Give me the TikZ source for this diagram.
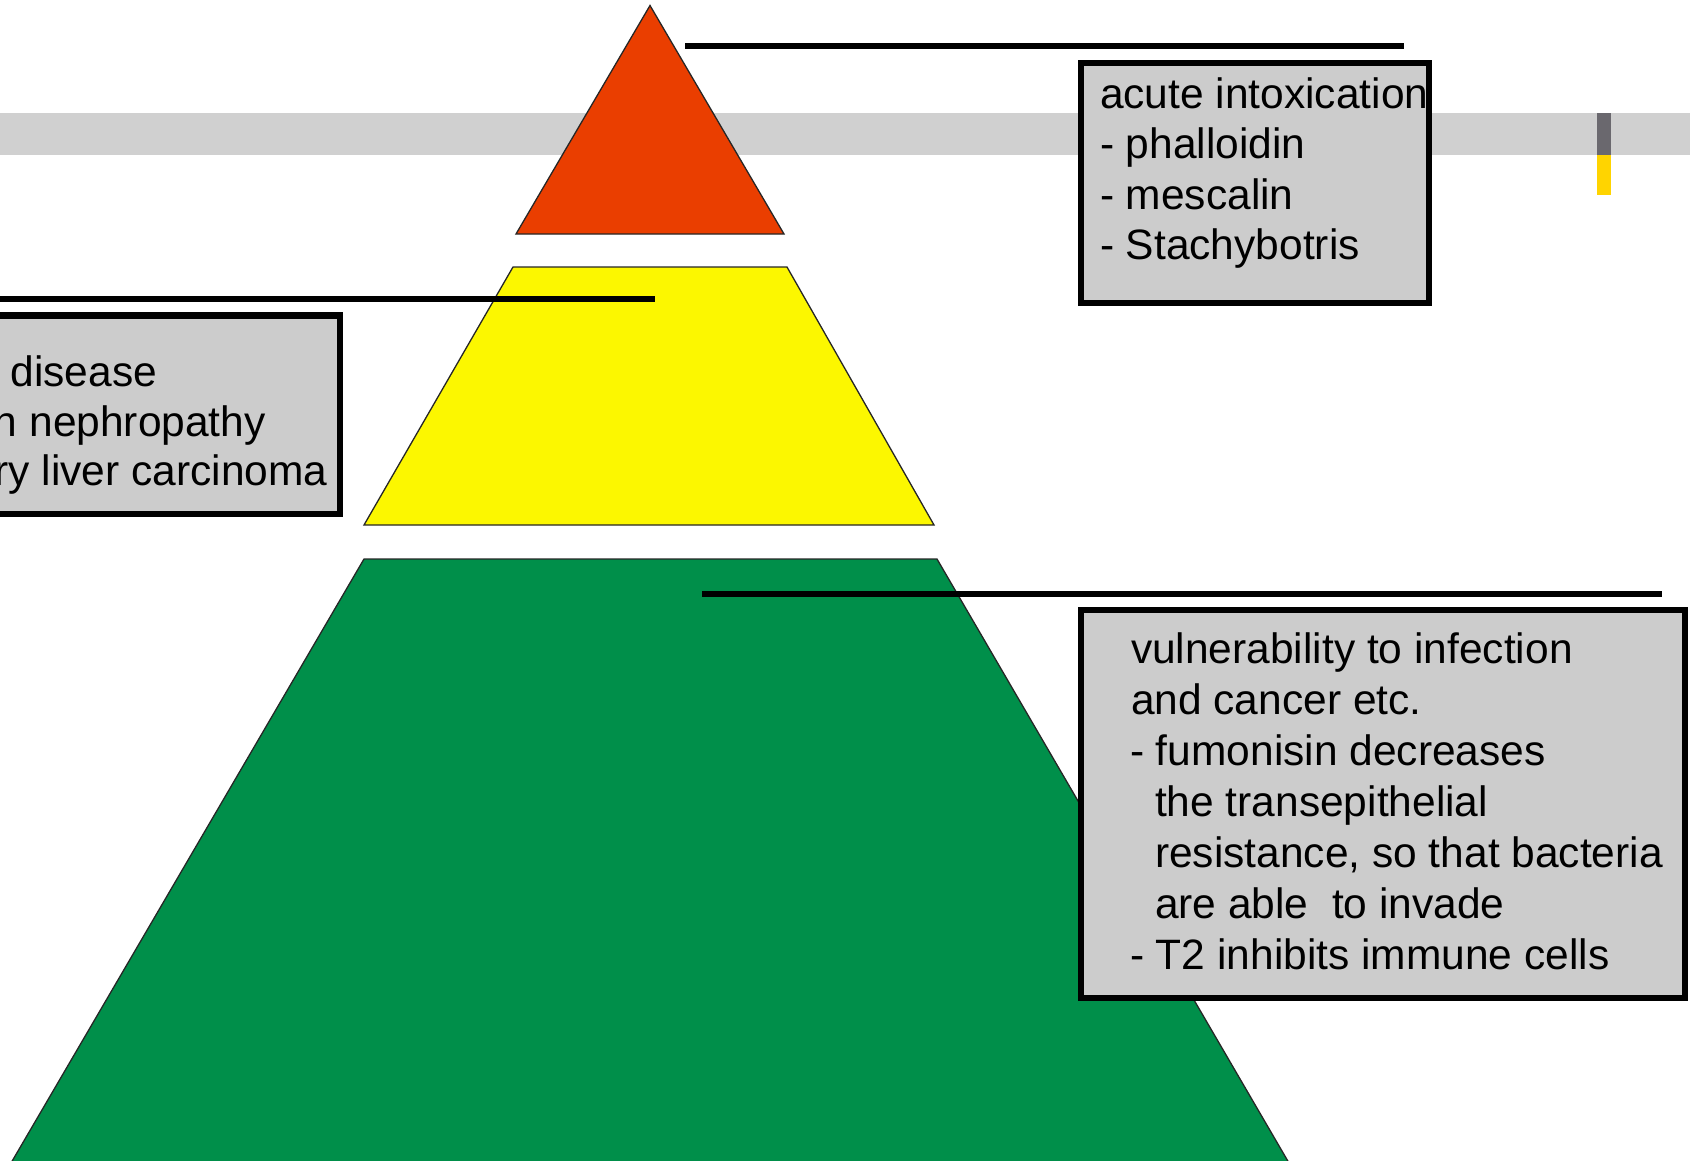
\documentclass[tikz,border=0pt]{standalone}
\usepackage{fontspec}
\setmainfont{Liberation Sans}
\definecolor{bandgray}{RGB}{208,208,208}
\definecolor{boxgray}{RGB}{204,204,204}
\definecolor{pyrred}{RGB}{234,62,0}
\definecolor{pyryellow}{RGB}{252,247,0}
\definecolor{pyrgreen}{RGB}{0,143,74}
\definecolor{bardark}{RGB}{106,104,110}
\definecolor{baryellow}{RGB}{255,212,0}
\tikzset{
  level/.style={draw=black!85, line width=1.3pt, line join=miter},
  infobox/.style={rectangle, draw=black, line width=6.5pt, fill=boxgray, inner sep=0pt, outer sep=0pt},
  leader/.style={draw=black, line width=6.5pt},
  txt/.style={anchor=base west, inner sep=0pt, outer sep=0pt, font=\fontsize{42.5}{51}\selectfont}
}
\begin{document}
\begin{tikzpicture}[x=1pt,y=-1pt]
\useasboundingbox (0,0) rectangle (1690,1160);
\clip (0,0) rectangle (1690,1160);
% background band and marker
\fill[bandgray] (0,113) rectangle (1690,154.5);
\fill[bardark] (1597,113) rectangle (1611,154.5);
\fill[baryellow] (1597,154.5) rectangle (1611,195);
% pyramid levels
\path[level, fill=pyrred] (650,5.5) -- (784,234) -- (516,234) -- cycle;
\path[level, fill=pyryellow] (513,267) -- (787,267) -- (934,525) -- (364,525) -- cycle;
\path[level, fill=pyrgreen] (364,559) -- (937,559) -- (1289,1163) -- (11,1163) -- cycle;
% leader lines
\coordinate (t1) at (685,46);
\coordinate (t2) at (1404,46);
\coordinate (l1) at (-10,299);
\coordinate (l2) at (655,299);
\coordinate (b1) at (702,594);
\coordinate (b2) at (1662,594);
\draw[leader] (t1) -- (t2);
\draw[leader] (l1) -- (l2);
\draw[leader] (b1) -- (b2);
% boxes
\node[infobox, minimum width=348pt, minimum height=240pt] (acute) at (1255,183) {};
\node[infobox, minimum width=440pt, minimum height=198.5pt] (chronic) at (120,414.75) {};
\node[infobox, minimum width=604pt, minimum height=388pt] (vuln) at (1383,804) {};
% texts of top right box
\node[txt] (a1) at (1100,108) {acute intoxication};
\node[txt] (a2) at (1100,158.5) {- phalloidin};
\node[txt] (a3) at (1100,209) {- mescalin};
\node[txt] (a4) at (1100,259.5) {- Stachybotris};
% texts of left box
\node[txt] (c1) at (10.5,386) {disease};
\node[txt] (c2) at (-6,436) {n nephropathy};
\node[txt] (c3) at (-5.5,485.5) {ry liver carcinoma};
% texts of bottom right box
\node[txt] (v1) at (1131,663) {vulnerability to infection};
\node[txt] (v2) at (1131,714) {and cancer etc.};
\node[txt] (v3) at (1130,765) {- fumonisin decreases};
\node[txt] (v4) at (1155,816) {the transepithelial};
\node[txt] (v5) at (1155,867) {resistance, so that bacteria};
\node[txt] (v6) at (1155,918) {are able\ \ to invade};
\node[txt] (v7) at (1130,969) {- T2 inhibits immune cells};
\end{tikzpicture}
\end{document}
